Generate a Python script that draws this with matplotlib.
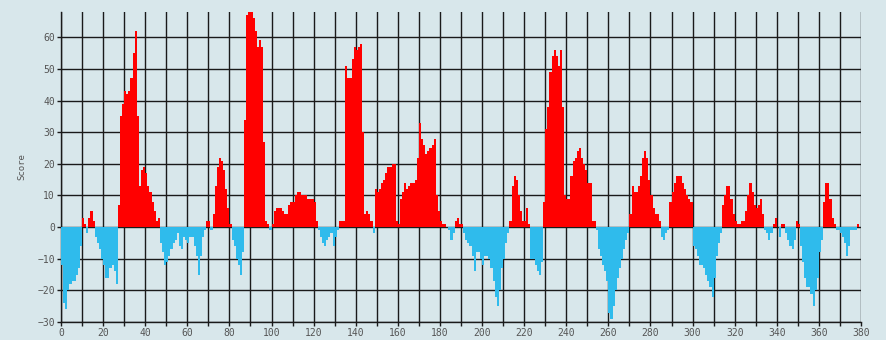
import numpy as np
import matplotlib
matplotlib.use('Agg')
import matplotlib.pyplot as plt

# per-residue score, residues 0..378
score = [
    -12, -24, -26, -20, -18, -17, -17, -15, -13, -6,      # 0
    3, 1, -2, 3, 5, 2, -3, -5, -7, -10,                   # 10
    -12, -16, -16, -13, -12, -14, -18, 7, 35, 39,         # 20
    43, 42, 43, 47, 55, 62, 35, 13, 18, 19,               # 30
    17, 13, 11, 8, 5, 2, 3, -5, -8, -12,                  # 40
    -11, -9, -7, -5, -4, -2, -6, -7, -3, -4,              # 50
    -5, -3, -3, -6, -9, -15, -9, -3, -1, 2,               # 60
    2, -1, 4, 13, 19, 22, 21, 18, 12, 6,                  # 70
    1, -4, -6, -10, -12, -15, -8, 34, 67, 68,             # 80
    68, 66, 62, 57, 59, 57, 27, 2, 1, -1,                 # 90
    1, 5, 6, 6, 6, 5, 4, 4, 7, 8,                         # 100
    8, 10, 11, 11, 10, 10, 10, 9, 9, 9,                   # 110
    8, 2, -1, -3, -5, -6, -4, -3, -2, -6,                 # 120
    -3, -1, 2, 2, 2, 51, 47, 47, 53, 57,                  # 130
    56, 57, 58, 30, 4, 5, 4, 2, -2, 12,                   # 140
    11, 12, 14, 15, 17, 19, 19, 20, 20, 2,                # 150
    1, 9, 11, 14, 12, 13, 14, 14, 15, 22,                 # 160
    33, 28, 26, 23, 24, 25, 26, 28, 10, 5,                # 170
    2, 1, 1, 0, -1, -4, -2, 2, 3, 1,                      # 180
    1, -2, -4, -5, -6, -9, -14, -8, -8, -10,              # 190
    -12, -9, -9, -10, -13, -17, -22, -25, -20, -13,       # 200
    -10, -5, -2, 2, 13, 16, 15, 10, 5, 2,                 # 210
    2, 6, 1, -10, -10, -12, -14, -15, -11, 8,             # 220
    31, 38, 49, 54, 56, 54, 51, 56, 38, 10,               # 230
    9, 9, 16, 21, 22, 24, 25, 22, 20, 18,                 # 240
    14, 14, 2, 2, -1, -7, -9, -12, -14, -17,              # 250
    -27, -29, -25, -20, -16, -13, -10, -7, -4, -2,        # 260
    4, 13, 11, 11, 13, 16, 22, 24, 22, 15,                # 270
    10, 6, 4, 4, 2, -3, -4, -2, -1, 8,                    # 280
    11, 14, 16, 16, 16, 14, 12, 10, 9, 8,                 # 290
    -6, -7, -9, -12, -12, -13, -15, -17, -19, -22,        # 300
    -16, -9, -5, -2, 7, 10, 13, 13, 9, 4,                 # 310
    2, 1, 1, 2, 2, 5, 10, 14, 11, 7,                      # 320
    6, 7, 9, 4, -1, -2, -4, -2, 1, 3,                     # 330
    0, -3, 1, 1, -2, -4, -6, -7, -4, 2,                   # 340
    1, -6, -11, -16, -19, -19, -21, -25, -20, -16,        # 350
    -8, -4, 8, 14, 14, 9, 3, 1, -1, -1,                   # 360
    -2, -3, -5, -9, -6, -1, -1, -1, 1,                    # 370
]

yticks = list(range(-30, 61, 10))
xticks = list(range(0, 381, 20))

bg = '#d8e7eb'
pos_color = '#ff0000'
neg_color = '#2fbbec'
line_color = '#1a1a1a'

score = np.array(score)
res = np.arange(len(score))
colors = [pos_color if v >= 0 else neg_color for v in score]

fig = plt.figure(figsize=(8.86, 3.40), dpi=100, facecolor=bg)
ax = fig.add_axes([61 / 886, 18 / 340, 800 / 886, 310 / 340], facecolor=bg)

ax.bar(res, score, width=1.0, align='edge', color=colors, linewidth=0, zorder=2)

ax.set_xlim(0, 380)
ax.set_ylim(-30, 68)
# grid every 10, labels every 20
ax.set_xticks(np.arange(0, 381, 10))
ax.set_xticklabels([str(t) if t in xticks else '' for t in range(0, 381, 10)])
ax.set_yticks(yticks)
ax.grid(True, color=line_color, linewidth=1.0, zorder=1)
ax.set_axisbelow(True)

for s in ['top', 'right']:
    ax.spines[s].set_visible(False)
for s in ['left', 'bottom']:
    ax.spines[s].set_color(line_color)
    ax.spines[s].set_linewidth(1.0)
    ax.spines[s].set_zorder(1)

ax.tick_params(axis='both', length=3, width=1.0, color=line_color,
               labelsize=7, labelcolor='#555555', pad=1.5)
for lab in ax.get_xticklabels() + ax.get_yticklabels():
    lab.set_family('DejaVu Sans Mono')

ax.set_ylabel('Score', fontsize=6.5, color='#555555', family='DejaVu Sans Mono', labelpad=8)

fig.savefig('out.png', dpi=100, facecolor=bg)
